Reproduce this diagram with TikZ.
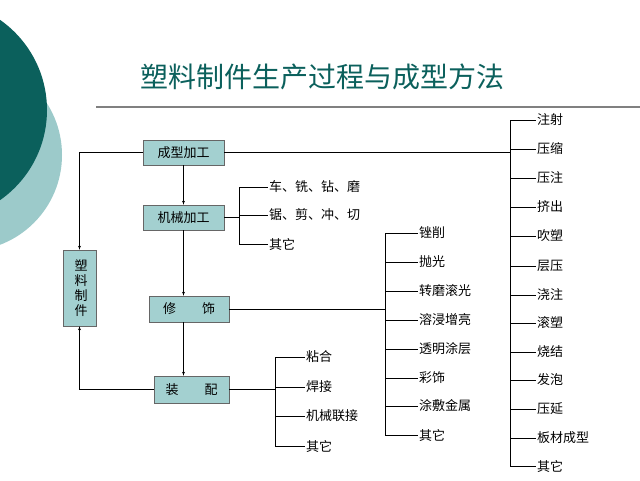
\documentclass[tikz,border=0pt]{standalone}
\usepackage{fontspec}
\setmainfont{Noto Sans CJK SC}
\usetikzlibrary{arrows}
\definecolor{darkteal}{HTML}{0B605C}
\definecolor{lightteal}{HTML}{9CCACA}
\definecolor{boxfill}{HTML}{A3D0D0}
\tikzset{block/.style = {rectangle, draw=gray!80!black, fill=boxfill, inner sep=0pt, font=\fontsize{13}{15}\selectfont},
	item/.style     = {anchor=west, inner sep=1pt, font=\fontsize{13}{15}\selectfont},
	line/.style     = {draw, -latex', thin},
	tie/.style      = {draw, thin}
}
\begin{document}
\begin{tikzpicture}[x=1pt, y=-1pt]
		\useasboundingbox (0,0) rectangle (640,480);
		\fill[lightteal] (-34,155) circle (96);
		\fill[darkteal] (-63,110) circle (110);
		\node[darkteal, font=\fontsize{28}{32}\selectfont] (title) at (322,77) {塑料制件生产过程与成型方法};
		\draw[gray, line width=1.2pt] (96,107) -- (640,107);
		\node [block, minimum width=81pt, minimum height=25pt] (form) at (183.5,152.5) {成型加工};
		\node [block, minimum width=81pt, minimum height=25pt] (mach) at (183.5,217.5) {机械加工};
		\node [block, minimum width=80pt, minimum height=26pt] (trim) at (189,309) {修\hspace{2em}饰};
		\node [block, minimum width=75pt, minimum height=27pt] (asm) at (191.5,389.5) {装\hspace{2em}配};
		\node [block, minimum width=33pt, minimum height=76pt, text width=1em, align=center] (part) at (79.5,288) {塑\\料\\制\\件};
		\path [line] (form) -- (mach);
		\path [line] (mach) -- (trim.north -| mach);
		\path [line] (trim.south -| mach) -- (asm.north -| mach);
		\path [line] (form.west) -| (part.north);
		\path [line] (asm.west) -| (part.south);
		%% machining branches
		\coordinate (mb) at (239,217.5);
		\path [tie] (mach.east) -- (mb);
		\path [tie] (239,187) -- (239,244);
		\foreach \t/\y [count=\i] in {车、铣、钻、磨/187, 锯、剪、冲、切/215, 其它/244} {
			\node [item] (m\i) at (268,\y) {\t};
			\path [tie] (239,\y) -- (m\i.west);
		}
		%% finishing branches
		\path [tie] (trim.east) -- (385,309);
		\path [tie] (385,233) -- (385,435);
		\foreach \t/\y [count=\i] in {锉削/233, 抛光/262, 转磨滚光/291, 溶浸增亮/320, 透明涂层/349, 彩饰/378, 涂敷金属/406, 其它/435} {
			\node [item] (f\i) at (418,\y) {\t};
			\path [tie] (385,\y) -- (f\i.west);
		}
		%% assembly branches
		\path [tie] (asm.east) -- (275,389.5);
		\path [tie] (275,357) -- (275,446);
		\foreach \t/\y [count=\i] in {粘合/357, 焊接/387, 机械联接/416, 其它/446} {
			\node [item] (a\i) at (305,\y) {\t};
			\path [tie] (275,\y) -- (a\i.west);
		}
		%% forming methods
		\path [tie] (form.east) -- (510,152.5);
		\path [tie] (510,120) -- (510,466);
		\foreach \t/\y [count=\i] in {注射/120, 压缩/149, 压注/178, 挤出/207, 吹塑/236, 层压/266, 浇注/295, 滚塑/323, 烧结/352, 发泡/380, 压延/409, 板材成型/438, 其它/466} {
			\node [item] (p\i) at (536,\y) {\t};
			\path [tie] (510,\y) -- (p\i.west);
		}
	\end{tikzpicture}
\end{document}
